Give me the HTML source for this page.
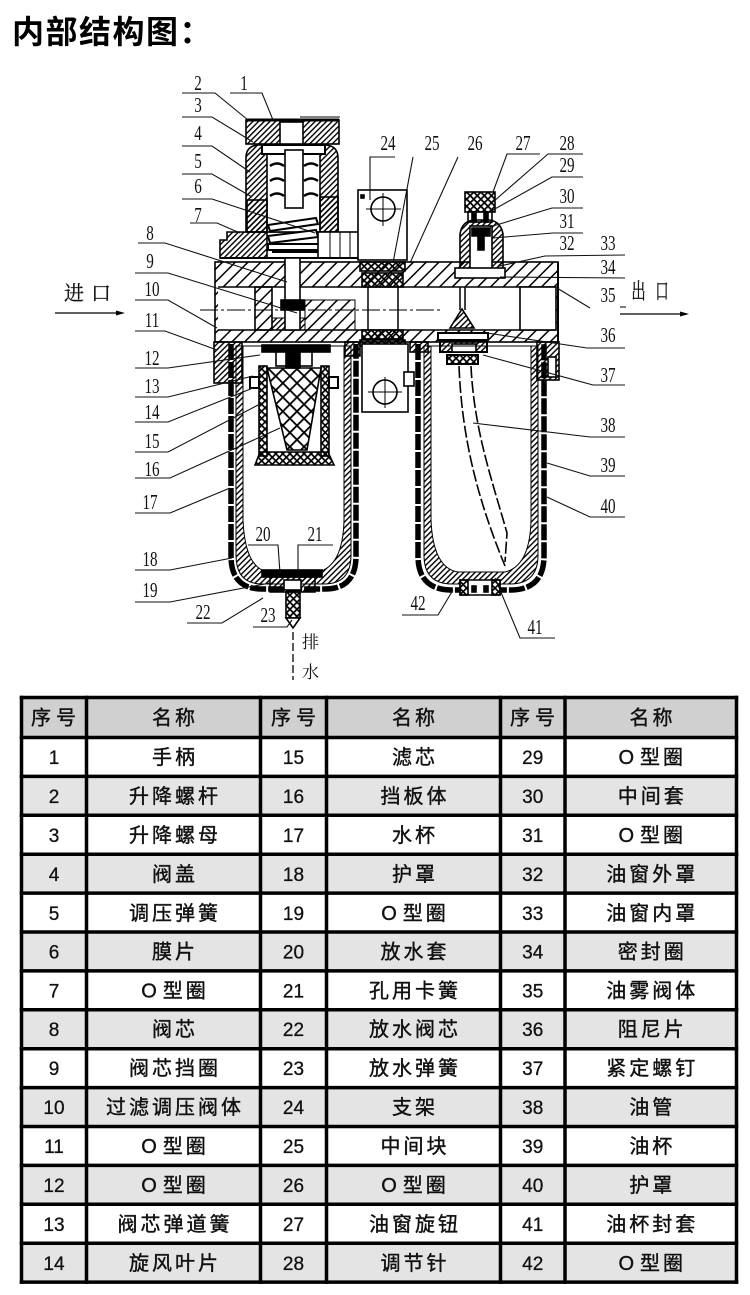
<!DOCTYPE html>
<html><head><meta charset="utf-8">
<style>
html,body{margin:0;padding:0;background:#fff;}
svg{display:block;}
.lb text{font-family:"Liberation Serif","DejaVu Serif",serif;font-size:21px;fill:#111;}
.cj{font-family:"Liberation Serif","Noto Serif CJK SC",serif;fill:#111;}
.t{font-family:"Liberation Sans","Noto Sans CJK SC",sans-serif;fill:#111;font-size:19px;stroke:#111;stroke-width:0.3px;}
.n{font-family:"Liberation Sans","Noto Sans CJK SC",sans-serif;fill:#111;font-size:20px;letter-spacing:3px;stroke:#111;stroke-width:0.4px;}
</style></head><body>
<svg width="750" height="1295" viewBox="0 0 750 1295" xmlns="http://www.w3.org/2000/svg">
<defs>
<pattern id="h" width="4" height="4" patternUnits="userSpaceOnUse" patternTransform="rotate(45)"><rect width="1.4" height="4" fill="#000"/></pattern>
<pattern id="hw" width="9" height="9" patternUnits="userSpaceOnUse" patternTransform="rotate(45)"><rect width="1.5" height="9" fill="#000"/></pattern>
<pattern id="x" width="5" height="5" patternUnits="userSpaceOnUse" patternTransform="rotate(45)"><rect width="1.7" height="5" fill="#000"/><rect width="5" height="1.7" fill="#000"/></pattern>
<pattern id="xd" width="10" height="10" patternUnits="userSpaceOnUse" patternTransform="rotate(45)"><rect width="1.8" height="10" fill="#000"/><rect width="10" height="1.8" fill="#000"/></pattern>
</defs>
<rect width="750" height="1295" fill="#fff"/>

<!-- Title -->
<text x="12" y="43" font-family="Liberation Sans, Noto Sans CJK SC, sans-serif" font-size="32" font-weight="bold" letter-spacing="1.5" fill="#000">内部结构图：</text>

<!-- ================= DRAWING ================= -->
<g stroke="#000" stroke-width="1.6">
<!-- handle 1 -->
<rect x="246" y="120" width="93" height="24" fill="url(#h)"/>
<rect x="280" y="122" width="23" height="22" fill="#fff"/>
<line x1="246" y1="120" x2="339" y2="120" stroke-width="3"/>
<line x1="300" y1="117" x2="340" y2="117" stroke-width="1"/>
<!-- bonnet 4 -->
<path d="M246,232 V158 Q246,146 258,145 H326 Q338,146 338,158 V232 Z" fill="url(#h)"/>
<rect x="267" y="154" width="53" height="78" fill="#fff"/>
<rect x="262" y="145" width="63" height="9" fill="#fff" stroke-width="2"/>
<rect x="285" y="150" width="18" height="58" fill="#fff"/>
<g fill="none" stroke-width="2.5">
<path d="M270,166 q7,-5 14,0 M270,181 q7,-5 14,0 M270,196 q7,-5 14,0 M304,166 q7,-5 14,0 M304,181 q7,-5 14,0 M304,196 q7,-5 14,0"/>
</g>
<rect x="247" y="200" width="20" height="32" fill="url(#h)"/>
<rect x="320" y="197" width="18" height="35" fill="url(#h)"/>
<!-- spring 5 / diaphragm 6 -->
<path d="M268,225 L316,218 L318,224 L270,231 Z" fill="#fff" stroke-width="2"/>
<path d="M268,236 L316,230 L318,237 L270,243 Z" fill="#fff" stroke-width="2"/>
<rect x="268" y="244" width="52" height="6" fill="#fff" stroke-width="2"/>
<line x1="272" y1="252" x2="320" y2="252" stroke-width="2"/>
<!-- flange -->
<path d="M220,258 V240 H227 V232 H267 V258 Z" fill="url(#h)"/>
<rect x="318" y="232" width="42" height="26" fill="#fff"/>
<path d="M330,232 V258 M340,232 V258 M350,232 V258" stroke-width="1"/>
<line x1="220" y1="258" x2="360" y2="258" stroke-width="2"/>

<!-- bracket 24 upper -->
<rect x="358" y="190" width="49" height="70" fill="#fff"/>
<circle cx="383" cy="209" r="12" fill="none"/>
<path d="M366,209 H401 M383,193 V226" stroke-width="1"/>
<rect x="361" y="195" width="3" height="3" fill="#000"/>

<!-- body -->
<rect x="215" y="262" width="343" height="80" fill="url(#hw)"/>
<rect x="218" y="287" width="338" height="43" fill="#fff" stroke="none"/>
<line x1="218" y1="287" x2="556" y2="287"/>
<line x1="218" y1="330" x2="556" y2="330"/>
<rect x="255" y="287" width="17" height="43" fill="url(#hw)"/>
<rect x="305" y="300" width="50" height="30" fill="url(#hw)" stroke-width="1"/>
<rect x="272" y="318" width="33" height="12" fill="url(#h)" stroke-width="1"/>
<!-- valve stem 8 -->
<rect x="285" y="258" width="15" height="72" fill="#fff"/>
<rect x="281" y="300" width="23" height="10" fill="#000"/>
<!-- center line -->
<line x1="200" y1="310" x2="440" y2="310" stroke-width="1" stroke-dasharray="18 3 3 3"/>
<!-- block 25/26 -->
<rect x="360" y="262" width="45" height="9" fill="url(#x)"/>
<rect x="362" y="273" width="41" height="14" fill="url(#x)"/>
<rect x="362" y="330" width="41" height="9" fill="url(#x)"/>
<rect x="360" y="340" width="45" height="6" fill="url(#x)"/>
<path d="M368,287 V330 M398,287 V330" stroke-width="1.5"/>
<!-- oil unit 27-33 -->
<rect x="465" y="192" width="30" height="20" fill="url(#x)"/>
<rect x="468" y="212" width="24" height="10" fill="#fff"/>
<rect x="472" y="212" width="4" height="10" fill="#000"/>
<rect x="484" y="212" width="4" height="10" fill="#000"/>
<path d="M460,277 V234 Q462,221 474,220 H490 Q501,222 503,234 V277 Z" fill="url(#h)"/>
<rect x="470" y="226" width="22" height="46" fill="#fff"/>
<path d="M472,228 H490 V236 H484 V250 H478 V236 H472 Z" fill="#000"/>
<rect x="455" y="268" width="50" height="10" fill="#fff"/>
<!-- drip 35 -->
<path d="M460,287 V310 M465,287 V310" stroke-width="1.5"/>
<path d="M450,328 L462,309 L474,328 Z" fill="url(#h)"/>
<!-- outlet bore -->
<rect x="520" y="287" width="36" height="43" fill="#fff"/>
<line x1="558" y1="262" x2="558" y2="342" stroke-width="2"/>

<!-- lower lumps -->
<rect x="214" y="342" width="28" height="41" fill="url(#h)"/>
<rect x="345" y="342" width="15" height="14" fill="url(#h)"/>
<rect x="410" y="342" width="18" height="10" fill="url(#h)"/>
<rect x="537" y="342" width="22" height="38" fill="url(#h)"/>
<rect x="548" y="357" width="8" height="20" fill="#fff"/>

<!-- bracket 24 lower -->
<rect x="362" y="344" width="46" height="68" fill="#fff"/>
<circle cx="385" cy="392" r="12" fill="none"/>
<path d="M368,392 H402 M385,377 V408" stroke-width="1"/>
<rect x="404" y="372" width="10" height="14" fill="#fff"/>

<!-- cup head 36/37 -->
<rect x="438" y="333" width="50" height="7" fill="#fff" stroke-width="2"/>
<rect x="440" y="341" width="47" height="11" fill="url(#h)" stroke-width="2"/>
<rect x="452" y="344" width="24" height="8" fill="#fff"/>
<rect x="447" y="355" width="31" height="9" fill="url(#x)" stroke-width="2"/>

<!-- oil tube 38 -->
<path d="M459,366 C462,440 478,500 505,566" fill="none" stroke-width="1.6" stroke-dasharray="12 3"/>
<path d="M471,366 C474,430 492,480 507,533 L505,562" fill="none" stroke-width="1.6" stroke-dasharray="12 3"/>

<!-- filter element -->
<rect x="262" y="345" width="68" height="7" fill="#000"/>
<rect x="276" y="352" width="36" height="14" fill="#fff"/>
<rect x="286" y="352" width="14" height="16" fill="#000"/>
<rect x="259" y="366" width="8" height="90" fill="url(#x)"/>
<rect x="321" y="366" width="8" height="90" fill="url(#x)"/>
<path d="M267,368 L321,368 L307,450 L287,450 Z" fill="url(#xd)"/>
<path d="M255,465 L260,452 L328,452 L334,465 Z" fill="url(#x)"/>
<rect x="250" y="377" width="9" height="11" fill="#fff" stroke-width="2"/>
<rect x="329" y="377" width="9" height="11" fill="#fff" stroke-width="2"/>

<!-- left bowl -->
<path d="M236,346 V555 Q236,584 262,584 H324 Q351,584 351,555 V346 Z M243,346 V520 Q245,568 268,572 H318 Q343,566 344,520 V346 Z" fill-rule="evenodd" fill="url(#h)" stroke-width="1"/>
<path d="M231,344 V556 Q231,589 262,589 H325 Q356,589 356,556 V344" fill="none" stroke-width="5.5" stroke-dasharray="16 2"/>
<!-- left drain -->
<rect x="262" y="570" width="60" height="7" fill="#000"/>
<rect x="270" y="577" width="45" height="15" fill="url(#h)" stroke-width="1.5"/>
<rect x="284" y="580" width="17" height="10" fill="#fff"/>
<rect x="286" y="592" width="14" height="26" fill="url(#x)"/>
<path d="M286,618 L293,628 L300,618 Z" fill="#fff"/>

<!-- right bowl -->
<path d="M424,346 V555 Q424,584 452,584 H510 Q538,584 538,555 V346 Z M431,346 V520 Q433,568 458,572 H505 Q530,566 531,520 V346 Z" fill-rule="evenodd" fill="url(#h)" stroke-width="1"/>
<path d="M418,344 V556 Q418,589 450,590 H512 Q544,589 544,556 V344" fill="none" stroke-width="5.5" stroke-dasharray="16 2"/>
<rect x="460" y="580" width="40" height="15" fill="#fff" stroke-width="1.5"/>
<rect x="460" y="580" width="8" height="15" fill="url(#x)"/>
<rect x="492" y="580" width="8" height="15" fill="url(#x)"/>
<rect x="472" y="586" width="4" height="6" fill="#000"/>
<rect x="484" y="586" width="4" height="6" fill="#000"/>
</g>

<!-- drain text / line -->
<line x1="293" y1="632" x2="293" y2="680" stroke="#000" stroke-width="1.3" stroke-dasharray="8 3"/>
<text class="cj" x="302" y="648" font-size="17">排</text>
<text class="cj" x="302" y="678" font-size="17">水</text>

<!-- inlet / outlet -->
<text class="cj" x="64" y="300" font-size="20" letter-spacing="7" stroke="#111" stroke-width="0.3">进口</text>
<line x1="55" y1="313" x2="120" y2="313" stroke="#000" stroke-width="1.3"/>
<path d="M116,310.5 L125,313 L116,315.5 Z" fill="#000"/>
<text class="cj" transform="translate(638.5,299) scale(0.65,1)" text-anchor="middle" font-size="22" stroke="#111" stroke-width="0.4">出</text>
<text class="cj" transform="translate(662,299) scale(0.6,1)" text-anchor="middle" font-size="22" stroke="#111" stroke-width="0.4">口</text>
<line x1="620" y1="314" x2="684" y2="314" stroke="#000" stroke-width="1.3"/>
<path d="M680,311.5 L689,314 L680,316.5 Z" fill="#000"/>

<!-- leaders -->
<g fill="none" stroke="#111" stroke-width="1.1">
<polyline points="182,93 215,93 248,120"/>
<polyline points="230,93 262,93 273,120"/>
<polyline points="182,117 212,117 253,142"/>
<polyline points="182,146 212,146 250,172"/>
<polyline points="182,174 212,174 252,197"/>
<polyline points="182,199 212,199 315,233"/>
<polyline points="190,223 217,223 240,233"/>
<polyline points="138,243 165,243 287,282"/>
<polyline points="135,273 168,273 297,313"/>
<polyline points="135,300 168,300 217,328"/>
<polyline points="135,331 165,331 217,350"/>
<polyline points="135,368 168,368 260,355"/>
<polyline points="135,397 168,397 253,376"/>
<polyline points="135,422 168,422 253,388"/>
<polyline points="135,452 168,452 262,403"/>
<polyline points="135,478 170,478 280,428"/>
<polyline points="135,513 170,513 230,488"/>
<polyline points="135,570 170,570 232,558"/>
<polyline points="135,602 170,602 270,583"/>
<polyline points="187,623 222,623 263,598"/>
<polyline points="253,627 287,627 292,620"/>
<polyline points="248,545 278,545 280,573"/>
<polyline points="298,573 298,545 333,545"/>
<polyline points="395,157 370,157 370,200"/>
<polyline points="413,157 393,263"/>
<polyline points="458,157 410,263"/>
<polyline points="540,154 507,154 493,192"/>
<polyline points="583,154 548,154 493,202"/>
<polyline points="583,177 552,177 493,210"/>
<polyline points="583,208 552,208 490,227"/>
<polyline points="583,233 553,233 493,238"/>
<polyline points="500,266 545,256 625,255"/>
<polyline points="500,277 625,278"/>
<polyline points="557,288 590,308"/>
<polyline points="620,307 626,307"/>
<polyline points="487,333 587,348 625,348"/>
<polyline points="483,355 593,385 625,385"/>
<polyline points="473,423 590,437 625,437"/>
<polyline points="547,463 590,476 625,476"/>
<polyline points="547,497 590,517 625,517"/>
<polyline points="495,578 520,638 555,638"/>
<polyline points="453,590 438,615 402,615"/>
</g>

<!-- labels -->
<g class="lb" text-anchor="middle">
<text transform="translate(198,90) scale(0.72,1)">2</text>
<text transform="translate(244,90) scale(0.72,1)">1</text>
<text transform="translate(198,112) scale(0.72,1)">3</text>
<text transform="translate(198,140) scale(0.72,1)">4</text>
<text transform="translate(198,168) scale(0.72,1)">5</text>
<text transform="translate(198,193) scale(0.72,1)">6</text>
<text transform="translate(198,222) scale(0.72,1)">7</text>
<text transform="translate(150,240) scale(0.72,1)">8</text>
<text transform="translate(150,268) scale(0.72,1)">9</text>
<text transform="translate(152,296) scale(0.72,1)">10</text>
<text transform="translate(152,327) scale(0.72,1)">11</text>
<text transform="translate(152,365) scale(0.72,1)">12</text>
<text transform="translate(152,393) scale(0.72,1)">13</text>
<text transform="translate(152,419) scale(0.72,1)">14</text>
<text transform="translate(152,448) scale(0.72,1)">15</text>
<text transform="translate(152,476) scale(0.72,1)">16</text>
<text transform="translate(150,509) scale(0.72,1)">17</text>
<text transform="translate(150,566) scale(0.72,1)">18</text>
<text transform="translate(150,597) scale(0.72,1)">19</text>
<text transform="translate(203,619) scale(0.72,1)">22</text>
<text transform="translate(268,622) scale(0.72,1)">23</text>
<text transform="translate(263,541) scale(0.72,1)">20</text>
<text transform="translate(315,541) scale(0.72,1)">21</text>
<text transform="translate(388,150) scale(0.72,1)">24</text>
<text transform="translate(432,150) scale(0.72,1)">25</text>
<text transform="translate(475,150) scale(0.72,1)">26</text>
<text transform="translate(523,150) scale(0.72,1)">27</text>
<text transform="translate(567,150) scale(0.72,1)">28</text>
<text transform="translate(567,172) scale(0.72,1)">29</text>
<text transform="translate(567,203) scale(0.72,1)">30</text>
<text transform="translate(567,228) scale(0.72,1)">31</text>
<text transform="translate(567,250) scale(0.72,1)">32</text>
<text transform="translate(608,250) scale(0.72,1)">33</text>
<text transform="translate(608,274) scale(0.72,1)">34</text>
<text transform="translate(608,302) scale(0.72,1)">35</text>
<text transform="translate(608,342) scale(0.72,1)">36</text>
<text transform="translate(608,382) scale(0.72,1)">37</text>
<text transform="translate(608,432) scale(0.72,1)">38</text>
<text transform="translate(608,472) scale(0.72,1)">39</text>
<text transform="translate(608,513) scale(0.72,1)">40</text>
<text transform="translate(535,634) scale(0.72,1)">41</text>
<text transform="translate(418,610) scale(0.72,1)">42</text>
</g>

<!-- ================= TABLE ================= -->
<rect x="21.5" y="697.5" width="715" height="40" fill="#d0d0d0"/>
<g fill="#e4e4e4">
<rect x="21.5" y="776.4" width="715" height="38.9"/>
<rect x="21.5" y="854.2" width="715" height="38.9"/>
<rect x="21.5" y="932.0" width="715" height="38.9"/>
<rect x="21.5" y="1009.8" width="715" height="38.9"/>
<rect x="21.5" y="1087.6" width="715" height="38.9"/>
<rect x="21.5" y="1165.4" width="715" height="38.9"/>
<rect x="21.5" y="1243.2" width="715" height="38.9"/>
</g>
<g stroke="#000" stroke-width="3.5" stroke-linecap="square">
<line x1="21.5" y1="697.5" x2="736.5" y2="697.5"/>
<line x1="21.5" y1="737.5" x2="736.5" y2="737.5"/>
<line x1="21.5" y1="776.4" x2="736.5" y2="776.4"/>
<line x1="21.5" y1="815.3" x2="736.5" y2="815.3"/>
<line x1="21.5" y1="854.2" x2="736.5" y2="854.2"/>
<line x1="21.5" y1="893.1" x2="736.5" y2="893.1"/>
<line x1="21.5" y1="932.0" x2="736.5" y2="932.0"/>
<line x1="21.5" y1="970.9" x2="736.5" y2="970.9"/>
<line x1="21.5" y1="1009.8" x2="736.5" y2="1009.8"/>
<line x1="21.5" y1="1048.7" x2="736.5" y2="1048.7"/>
<line x1="21.5" y1="1087.6" x2="736.5" y2="1087.6"/>
<line x1="21.5" y1="1126.5" x2="736.5" y2="1126.5"/>
<line x1="21.5" y1="1165.4" x2="736.5" y2="1165.4"/>
<line x1="21.5" y1="1204.3" x2="736.5" y2="1204.3"/>
<line x1="21.5" y1="1243.2" x2="736.5" y2="1243.2"/>
<line x1="21.5" y1="1282.1" x2="736.5" y2="1282.1"/>
<line x1="21.5" y1="697.5" x2="21.5" y2="1282.1"/>
<line x1="86.5" y1="697.5" x2="86.5" y2="1282.1"/>
<line x1="260.5" y1="697.5" x2="260.5" y2="1282.1"/>
<line x1="326.5" y1="697.5" x2="326.5" y2="1282.1"/>
<line x1="500.5" y1="697.5" x2="500.5" y2="1282.1"/>
<line x1="565" y1="697.5" x2="565" y2="1282.1"/>
<line x1="736.5" y1="697.5" x2="736.5" y2="1282.1"/>
</g>

<!-- header -->
<g class="n" text-anchor="middle">
<text x="56" y="724.5" letter-spacing="5">序号</text>
<text x="175" y="724.5">名称</text>
<text x="296" y="724.5" letter-spacing="5">序号</text>
<text x="415" y="724.5">名称</text>
<text x="535" y="724.5" letter-spacing="5">序号</text>
<text x="652.5" y="724.5">名称</text>
</g>

<!-- body rows: numbers -->
<g class="t" text-anchor="middle">
<text x="54" y="764">1</text><text x="293.5" y="764">15</text><text x="532.75" y="764">29</text>
<text x="54" y="803">2</text><text x="293.5" y="803">16</text><text x="532.75" y="803">30</text>
<text x="54" y="842">3</text><text x="293.5" y="842">17</text><text x="532.75" y="842">31</text>
<text x="54" y="881">4</text><text x="293.5" y="881">18</text><text x="532.75" y="881">32</text>
<text x="54" y="920">5</text><text x="293.5" y="920">19</text><text x="532.75" y="920">33</text>
<text x="54" y="958.5">6</text><text x="293.5" y="958.5">20</text><text x="532.75" y="958.5">34</text>
<text x="54" y="997.5">7</text><text x="293.5" y="997.5">21</text><text x="532.75" y="997.5">35</text>
<text x="54" y="1036">8</text><text x="293.5" y="1036">22</text><text x="532.75" y="1036">36</text>
<text x="54" y="1075">9</text><text x="293.5" y="1075">23</text><text x="532.75" y="1075">37</text>
<text x="54" y="1114">10</text><text x="293.5" y="1114">24</text><text x="532.75" y="1114">38</text>
<text x="54" y="1153">11</text><text x="293.5" y="1153">25</text><text x="532.75" y="1153">39</text>
<text x="54" y="1192">12</text><text x="293.5" y="1192">26</text><text x="532.75" y="1192">40</text>
<text x="54" y="1231">13</text><text x="293.5" y="1231">27</text><text x="532.75" y="1231">41</text>
<text x="54" y="1270">14</text><text x="293.5" y="1270">28</text><text x="532.75" y="1270">42</text>
</g>

<!-- body rows: names -->
<g class="n" text-anchor="middle">
<text x="175" y="764">手柄</text><text x="415" y="764">滤芯</text><text x="652.25" y="764">O<tspan dx="3">型圈</tspan></text>
<text x="175" y="803">升降螺杆</text><text x="415" y="803">挡板体</text><text x="652.25" y="803">中间套</text>
<text x="175" y="842">升降螺母</text><text x="415" y="842">水杯</text><text x="652.25" y="842">O<tspan dx="3">型圈</tspan></text>
<text x="175" y="881">阀盖</text><text x="415" y="881">护罩</text><text x="652.25" y="881">油窗外罩</text>
<text x="175" y="920">调压弹簧</text><text x="415" y="920">O<tspan dx="3">型圈</tspan></text><text x="652.25" y="920">油窗内罩</text>
<text x="175" y="958.5">膜片</text><text x="415" y="958.5">放水套</text><text x="652.25" y="958.5">密封圈</text>
<text x="175" y="997.5">O<tspan dx="3">型圈</tspan></text><text x="415" y="997.5">孔用卡簧</text><text x="652.25" y="997.5">油雾阀体</text>
<text x="175" y="1036">阀芯</text><text x="415" y="1036">放水阀芯</text><text x="652.25" y="1036">阻尼片</text>
<text x="175" y="1075">阀芯挡圈</text><text x="415" y="1075">放水弹簧</text><text x="652.25" y="1075">紧定螺钉</text>
<text x="175" y="1114">过滤调压阀体</text><text x="415" y="1114">支架</text><text x="652.25" y="1114">油管</text>
<text x="175" y="1153">O<tspan dx="3">型圈</tspan></text><text x="415" y="1153">中间块</text><text x="652.25" y="1153">油杯</text>
<text x="175" y="1192">O<tspan dx="3">型圈</tspan></text><text x="415" y="1192">O<tspan dx="3">型圈</tspan></text><text x="652.25" y="1192">护罩</text>
<text x="175" y="1231">阀芯弹道簧</text><text x="415" y="1231">油窗旋钮</text><text x="652.25" y="1231">油杯封套</text>
<text x="175" y="1270">旋风叶片</text><text x="415" y="1270">调节针</text><text x="652.25" y="1270">O<tspan dx="3">型圈</tspan></text>
</g>
</svg>
</body></html>
